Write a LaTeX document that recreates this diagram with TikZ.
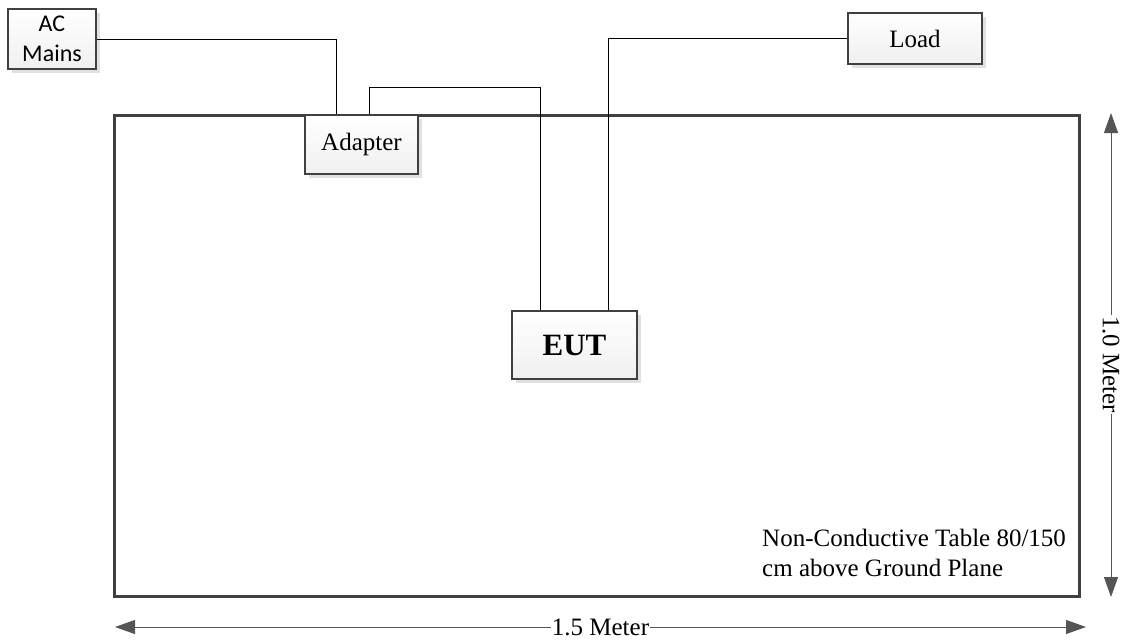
\documentclass[tikz,border=0pt]{standalone}
\usepackage{fontspec}
\setmainfont{Liberation Serif}
\newfontfamily\calfont{Carlito}
\usetikzlibrary{arrows.meta,shadows}
\definecolor{edge}{HTML}{404040}
\definecolor{dimc}{HTML}{555555}
\tikzset{
  box/.style={draw=edge, line width=2pt, top color=white, bottom color=gray!12,
    drop shadow={shadow xshift=4pt, shadow yshift=-4pt, fill=gray!30, opacity=0.8},
    inner sep=0pt, font=\fontsize{25}{30}\selectfont},
  wire/.style={draw=black, line width=1pt},
  dim/.style={draw=dimc, line width=1pt, {Triangle[length=20pt,width=14pt]}-{Triangle[length=20pt,width=14pt]}},
  dimlabel/.style={fill=white, inner sep=1pt, font=\fontsize{25}{30}\selectfont}
}
\begin{document}
\begin{tikzpicture}[x=1pt,y=-1pt]
\useasboundingbox (0,0) rectangle (1126,640);
% table
\node[draw=edge, line width=3pt, minimum width=965pt, minimum height=481pt, inner sep=0pt,
  drop shadow={shadow xshift=2pt, shadow yshift=-2pt, fill=gray!25}, fill=white] (table) at (596.5,355.5) {};
% boxes
\node[box, minimum width=88pt, minimum height=60pt, align=center, font=\calfont\fontsize{24}{30}\selectfont] (ac) at (52,39) {AC\\Mains};
\node[box, minimum width=113pt, minimum height=59pt] (adapter) at (361.5,144.5) {Adapter};
\node[box, minimum width=134pt, minimum height=51pt] (load) at (915,38.5) {Load};
\node[box, minimum width=125pt, minimum height=68pt, font=\bfseries\fontsize{31}{36}\selectfont] (eut) at (574.5,345) {EUT};
% wires
\draw[wire] (ac.east) -| ([xshift=-25.5pt]adapter.north);
\draw[wire] ([xshift=8pt]adapter.north) -- ++(0,-27) coordinate (bend) -| ([xshift=-34.5pt]eut.north);
\draw[wire] (load.west) -| ([xshift=33.5pt]eut.north);
% dimension arrows
\coordinate (hl) at (115,627);
\coordinate (hr) at (1086,627);
\draw[dim] (hl) -- node[dimlabel] (hlab) {1.5 Meter} (hr);
\coordinate (vt) at (1111,113);
\coordinate (vb) at (1111,597);
\draw[dim] (vt) -- node[dimlabel, rotate=-90, pos=0.52] (vlab) {1.0 Meter} (vb);
% table note
\node[anchor=north west, align=left, inner sep=0pt, font=\fontsize{25}{30}\selectfont] (note) at (762,529) {Non-Conductive Table 80/150\\cm above Ground Plane};
\end{tikzpicture}
\end{document}
